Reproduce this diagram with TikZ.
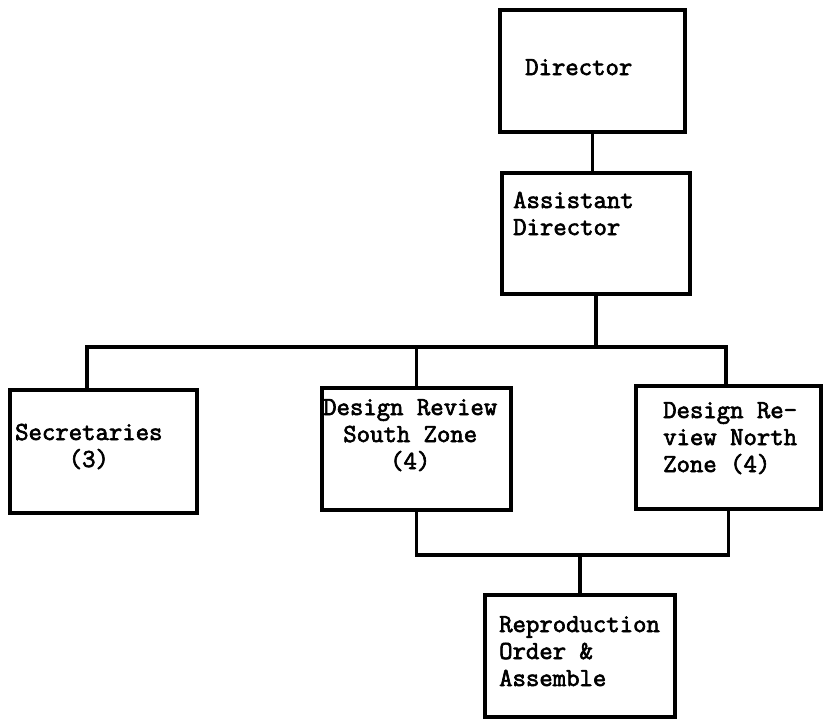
\documentclass[tikz,border=0pt]{standalone}
\usepackage{fontspec}
\newfontfamily\typewriter{Latin Modern Mono}[FakeBold=2.5]
\begin{document}
\begin{tikzpicture}[x=1pt,y=-1pt,
    box/.style={draw,line width=3.2pt,rectangle,inner sep=0pt},
    wire/.style={line width=3.2pt},
    label/.style={font=\typewriter\fontsize{26}{27}\selectfont,inner sep=0pt,anchor=base west}]
  \useasboundingbox[fill=white] (0,0) rectangle (823,721);

  % boxes
  \node[box,minimum width=185pt,minimum height=122pt] (dir)   at (592.5,71)  {};
  \node[box,minimum width=188pt,minimum height=121pt] (asst)  at (596,233.5) {};
  \node[box,minimum width=187pt,minimum height=123pt] (sec)   at (103.5,451.5) {};
  \node[box,minimum width=189pt,minimum height=122pt] (south) at (416.5,449) {};
  \node[box,minimum width=185pt,minimum height=123pt] (north) at (728.5,447.5) {};
  \node[box,minimum width=190pt,minimum height=122pt] (repro) at (580,656) {};

  % texts (multi-line labels are anchored on their last baseline)
  \node[label] (dirtxt) at (525,75) {Director};
  \node[label,align=left] (assttxt) at (513,235) {Assistant\\Director};
  \node[label,align=center] (sectxt) at (15,467) {Secretaries\\(3)};
  \node[label,align=center] (southtxt) at (323,469) {Design Review\\South Zone\\(4)};
  \node[label,align=left] (northtxt) at (663,472) {Design Re-\\view North\\Zone (4)};
  \node[label,align=left] (reprotxt) at (499,686) {Reproduction\\Order \&\\Assemble};

  % connectors
  \coordinate (secdrop) at (87,347);
  \coordinate (northdrop) at (726,347);
  \coordinate (lowbus) at (0,555);
  \draw[wire] (dir.south) -- (dir.south |- asst.north);
  \draw[wire] (asst.south) -- (asst.south |- secdrop);
  \draw[wire] (sec.north -| secdrop) -- (secdrop) -- (northdrop) -- (north.north -| northdrop);
  \draw[wire] (south.north) -- (south.north |- secdrop);
  \draw[wire] (south.south) |- (north.south |- lowbus) -- (north.south);
  \draw[wire] (repro.north) -- (repro.north |- lowbus);
\end{tikzpicture}
\end{document}
